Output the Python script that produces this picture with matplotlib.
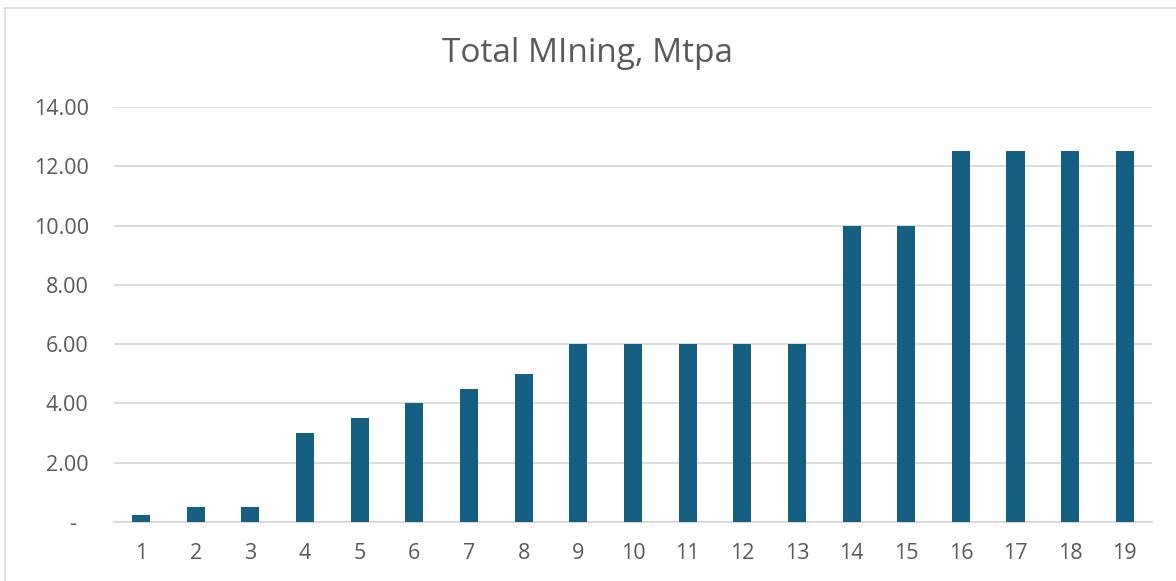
import matplotlib.pyplot as plt
from matplotlib.patches import Rectangle
from matplotlib.ticker import FuncFormatter

periods = list(range(1, 20))
mining = [0.25, 0.5, 0.5, 3.0, 3.5, 4.0, 4.5, 5.0, 6.0, 6.0, 6.0, 6.0, 6.0,
          10.0, 10.0, 12.5, 12.5, 12.5, 12.5]
yticks = [0, 2, 4, 6, 8, 10, 12, 14]

plt.rcParams['font.family'] = ['Open Sans', 'DejaVu Sans']

fig = plt.figure(figsize=(11.76, 5.81), dpi=100)
ax = fig.add_axes([0.0967, 0.1015, 0.883, 0.7143])

ax.bar(periods, mining, width=0.33, color='#156082', zorder=3)

ax.set_xlim(0.5, 19.5)
ax.set_ylim(0, 14)
ax.set_yticks(yticks)
ax.set_xticks(periods)
# accounting style: zero shown as a dash, set in from the right
ax.yaxis.set_major_formatter(FuncFormatter(lambda v, p: '-  ' if v == 0 else f'{v:.2f}'))
ax.grid(axis='y', color='#D9D9D9', linewidth=1.3, zorder=0)
for s in ['top', 'right', 'left']:
    ax.spines[s].set_visible(False)
ax.spines['bottom'].set_color('#D9D9D9')
ax.spines['bottom'].set_linewidth(1.3)
ax.tick_params(axis='both', length=0, labelsize=15.5, labelcolor='#595959')
ax.tick_params(axis='y', pad=18)
ax.tick_params(axis='x', pad=15)

fig.text(0.5, 0.908, 'Total MIning, Mtpa', ha='center', va='center',
         fontsize=24, color='#595959')

fig.patches.append(Rectangle((5 / 1176, -0.02), 1.1, 1.02 - 8 / 581,
                             transform=fig.transFigure, fill=False,
                             edgecolor='#D9D9D9', linewidth=1.2))

plt.savefig('out.png')
